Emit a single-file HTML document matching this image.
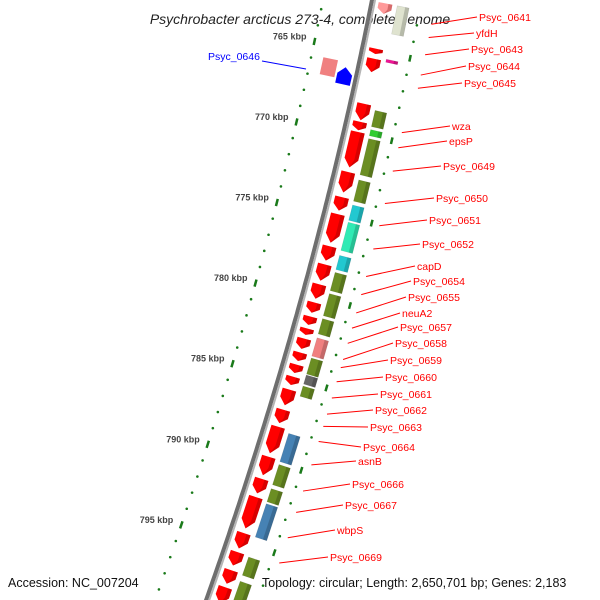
<!DOCTYPE html>
<html><head><meta charset="utf-8"><style>
html,body{margin:0;padding:0;background:#fff;overflow:hidden;width:600px;height:600px;}
svg{display:block;font-family:"Liberation Sans",sans-serif;overflow:hidden;}
</style></head><body>
<svg id="map" width="600" height="600" viewBox="0 0 600 600">
<text x="300" y="24" text-anchor="middle" font-style="italic" font-size="14" fill="#222">Psychrobacter arcticus 273-4, complete genome</text>
</svg>
<script>
// gene data (kbp)
const redStarts=[762.48,765.25,765.86,768.62,769.72,770.34,772.79,774.33,775.37,777.33,778.44,779.66,780.77,781.63,782.36,782.98,783.83,784.57,785.31,786.10,787.33,788.37,790.21,791.56,792.67,794.88,796.04,797.15,798.19];
const redEnds=[763.22,765.67,766.78,769.72,770.34,772.61,774.14,775.25,777.21,778.31,779.54,780.64,781.50,782.24,782.85,783.71,784.45,785.18,785.92,787.15,788.25,790.09,791.44,792.55,794.69,795.92,796.96,798.07,799.29];
const boxStarts=[762.48,765.74,768.86,770.03,770.58,773.10,774.63,775.68,777.70,778.74,780.03,781.56,782.73,783.96,785.00,785.67,788.56,790.46,791.93,792.85,796.10,797.58];
const boxEnds=[764.32,766.04,769.97,770.52,772.91,774.51,775.68,777.52,778.68,779.97,781.50,782.61,783.96,785.06,785.67,786.41,790.40,791.81,792.85,795.00,797.33,798.99];
const boxColors=["#dfe3cf","#ee1493","#6b8e23","#32cd32","#6b8e23","#6b8e23","#22c8d0","#30eab4","#22c8d0","#6b8e23","#6b8e23","#6b8e23","#f08080","#6b8e23","#666666","#6b8e23","#4682b4","#6b8e23","#6b8e23","#4682b4","#6b8e23","#6b8e23"];
const labelNames=["Psyc_0641","yfdH","Psyc_0643","Psyc_0644","Psyc_0645","wza","epsP","Psyc_0649","Psyc_0650","Psyc_0651","Psyc_0652","capD","Psyc_0654","Psyc_0655","neuA2","Psyc_0657","Psyc_0658","Psyc_0659","Psyc_0660","Psyc_0661","Psyc_0662","Psyc_0663","Psyc_0664","asnB","Psyc_0666","Psyc_0667","wbpS","Psyc_0669"];
const labelKbp=[763.22,764.02,765.06,766.29,767.09,769.85,770.77,772.18,774.14,775.49,776.90,778.56,779.66,780.77,781.69,782.61,783.59,784.08,784.94,785.92,786.90,787.64,788.56,789.97,791.56,792.85,794.39,795.92];
const labelX=[479,476,471,468,464,452,449,443,436,429,422,417,413,408,402,400,395,390,385,380,375,370,363,358,352,345,337,330];
const labelY=[21,37,53,70,87,130,145,170,202,224,248,270,285,301,317,331,347,364,381,398,414,431,451,465,488,509,534,561];
const tickKbp=[765,770,775,780,785,790,795];

const NS="http://www.w3.org/2000/svg";
const svg=document.getElementById('map');
function yOf(k){return 41+(k-765)*16.3;}
function bx(y){return 373-0.199*y-0.000129*y*y;}
function pt(k,off){const y=yOf(k);const d=-0.199-0.000258*y;const n=Math.hypot(1,d);return [bx(y)+off/n,y-off*d/n];}
function el(tag,attrs,parent){const e=document.createElementNS(NS,tag);for(const a in attrs)e.setAttribute(a,attrs[a]);(parent||svg).appendChild(e);return e;}
function P(p){return p[0].toFixed(1)+","+p[1].toFixed(1);}

// backbone
let d1="",d2="";
for(let y=-5;y<=605;y+=5){const k=765+(y-41)/16.3;d1+=(y===-5?"M":"L")+P(pt(k,-1));d2+=(y===-5?"M":"L")+P(pt(k,2));}
let bb=el('path',{d:d1,stroke:"#6e6e6e","stroke-width":4,fill:"none"});


let bb2=el('path',{d:d2,stroke:"#b5b5b5","stroke-width":2,fill:"none"});



// scale ticks
const LS=0.65;
for(let k=763;k<=800;k++){
  const major=tickKbp.includes(k);
  const a=pt(k+LS,-49);
  if(major){const b=pt(k+LS-0.22,-49),c=pt(k+LS+0.22,-49);
    let t=el('line',{x1:b[0],y1:b[1],x2:c[0],y2:c[1],stroke:"#1a7a1a","stroke-width":2.5});
    
    
    let lab=el('text',{x:a[0]-8,y:a[1]-2,"text-anchor":"end","font-size":9,"font-weight":"bold",fill:"#444"});
    lab.textContent=k+" kbp";
    
    
  } else {
    let t=el('circle',{cx:a[0],cy:a[1],r:1.3,fill:"#1a7a1a"});
    
    
  }
  const r=pt(k+0.45,48);
  if(k%5===0){const b=pt(k+0.25,48),c=pt(k+0.65,48);
    let t=el('line',{x1:b[0],y1:b[1],x2:c[0],y2:c[1],stroke:"#1a7a1a","stroke-width":2.5});
    
    
  } else {
    let t=el('circle',{cx:r[0],cy:r[1],r:1.3,fill:"#1a7a1a"});
    
    
  }
}

// boxes (second track)
for(let i=0;i<boxStarts.length;i++){
  const s=boxStarts[i]+0.06,e=boxEnds[i]-0.06;
  const pts=[pt(s,25),pt(s,37),pt(e,37),pt(e,25)];
  let g=el('polygon',{points:pts.map(P).join(" "),fill:boxColors[i],stroke:"rgba(0,0,0,0.12)","stroke-width":0.6});
  
  
  const sh=[pt(s,33),pt(s,37),pt(e,37),pt(e,33)];
  let h=el('polygon',{points:sh.map(P).join(" "),fill:"rgba(0,0,0,0.18)"});
  
  
}
// red arrows
for(let i=0;i<redStarts.length;i++){
  const s=redStarts[i]+0.06,e=redEnds[i]-0.04;
  const ah=Math.min(0.5,(e-s)*0.45);
  const pts=[pt(s,6),pt(s,20),pt(e-ah,20),pt(e,13),pt(e-ah,6)];
  let g=el('polygon',{points:pts.map(P).join(" "),fill:i===0?"#ff9a9a":"#ff0000"});
  
  
  const sh=[pt(s,16),pt(s,20),pt(e-ah,20),pt(e,13),pt(e-ah,16)];
  let h=el('polygon',{points:sh.map(P).join(" "),fill:"rgba(120,0,0,0.3)"});
  
  
}
// reverse-strand genes
{
  let s=el('polygon',{points:[pt(766.47,-37),pt(766.47,-22),pt(767.52,-22),pt(767.52,-37)].map(P).join(" "),fill:"#f08080"});
  
  
  let b=el('polygon',{points:[pt(766.78,-13),pt(767.2,-20),pt(767.82,-20),pt(767.82,-5),pt(767.2,-5)].map(P).join(" "),fill:"#0000ff"});
  
  
  let l=el('line',{x1:262,y1:61,x2:306,y2:69,stroke:"#0000ff","stroke-width":1});
  
  
  let t=el('text',{x:208,y:60,"font-size":10.5,fill:"#0000ff"});
  t.textContent="Psyc_0646";
  
  
}
// labels
for(let i=0;i<labelNames.length;i++){
  const a=pt(labelKbp[i],i<5?62:56);
  let l=el('line',{x1:a[0],y1:a[1],x2:labelX[i]-2,y2:labelY[i]-4,stroke:"#ff0000","stroke-width":1});
  
  
  let t=el('text',{x:labelX[i],y:labelY[i],"font-size":10.5,fill:"#ff0000"});
  t.textContent=labelNames[i];
  
  
}
// footer
let f1=el('text',{x:8,y:587,"font-size":12.5,fill:"#111"});
f1.textContent="Accession: NC_007204";


let f2=el('text',{x:262,y:587,"font-size":12.5,fill:"#111"});
f2.textContent="Topology: circular; Length: 2,650,701 bp; Genes: 2,183";


</script>
</body></html>
